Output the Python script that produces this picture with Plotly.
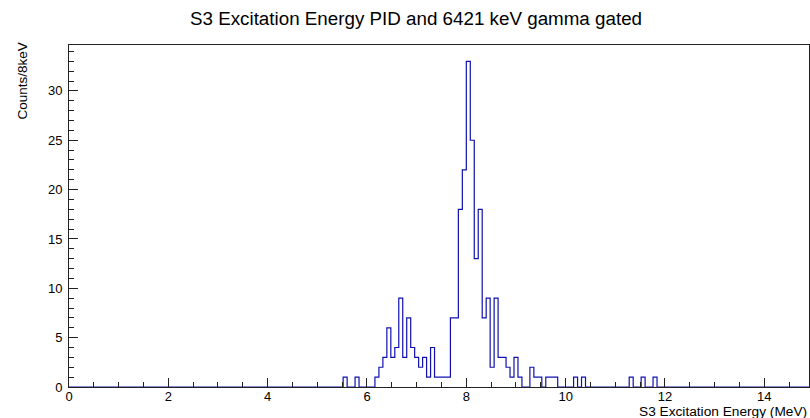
import plotly.graph_objects as go

# Histogram data: 0.08 MeV bins (low edges, MeV) and counts of the non-empty bins
bin_width = 0.08
bin_low = [5.52, 5.76,
           6.16, 6.24, 6.32, 6.40, 6.48, 6.56, 6.64, 6.72, 6.80, 6.88, 6.96,
           7.04, 7.12, 7.20, 7.28, 7.36, 7.44, 7.52, 7.60, 7.68, 7.76, 7.84, 7.92,
           8.00, 8.08, 8.16, 8.24, 8.32, 8.40, 8.48, 8.56, 8.64, 8.72, 8.80, 8.88, 8.96,
           9.04, 9.28, 9.36, 9.44, 9.60, 9.68, 9.76,
           10.16, 10.32, 11.28, 11.52, 11.76]
counts = [1, 1,
          1, 2, 3, 6, 3, 4, 9, 3, 7, 4, 3,
          2, 3, 1, 4, 1, 1, 1, 1, 7, 7, 18, 22,
          33, 25, 13, 18, 7, 9, 2, 9, 3, 3, 2, 1, 3,
          1, 2, 1, 1, 1, 1, 1,
          1, 1, 1, 1, 1]

x_min, x_max = 0.0, 14.9
n_bins = 187  # 0 .. 14.96 MeV
lookup = {round(b / bin_width): c for b, c in zip(bin_low, counts)}
edges = [i * bin_width for i in range(n_bins + 1)]
vals = [lookup.get(i, 0) for i in range(n_bins)]
xs = edges
ys = vals + [vals[-1]]

y_max = 1.05 * max(counts)

fig = go.Figure()
fig.add_trace(go.Scatter(
    x=xs, y=ys, mode="lines", line=dict(shape="hv", color="#1010b0", width=1.2),
    hoverinfo="skip", showlegend=False))

L, R, T, B = 69, 1, 45, 31
W, H = 810, 418
pw, ph = W - L - R, H - T - B

font = "Liberation Sans, Arial, Helvetica, sans-serif"
fig.update_layout(
    width=W, height=H,
    margin=dict(l=L, r=R, t=T, b=B, pad=0),
    paper_bgcolor="white", plot_bgcolor="white",
    font=dict(family=font, size=13, color="black"),
    title=dict(text="S3 Excitation Energy PID and 6421 keV gamma gated",
               x=416 / W, xanchor="center", xref="container",
               y=1 - 18 / H, yanchor="middle", yref="container",
               font=dict(size=18.8, family=font, color="black")),
    xaxis=dict(range=[x_min, x_max], showgrid=False, zeroline=False,
               showline=True, linecolor="#222", linewidth=1, mirror=True,
               ticks="inside", ticklen=9, tickcolor="#222", dtick=2, tick0=0,
               minor=dict(ticks="inside", ticklen=5, dtick=0.5, tickcolor="#222"),
               tickfont=dict(size=13), ticklabelstandoff=-3),
    yaxis=dict(range=[0, y_max], showgrid=False, zeroline=False,
               showline=True, linecolor="#222", linewidth=1, mirror=True,
               ticks="inside", ticklen=9, tickcolor="#222", dtick=5, tick0=0,
               minor=dict(ticks="inside", ticklen=5, dtick=1, tickcolor="#222"),
               tickfont=dict(size=13), ticklabelstandoff=3),
)

fig.add_annotation(text="S3 Excitation Energy (MeV)", xref="paper", yref="paper",
                   x=(809 - L) / pw, y=(387 - 411.5) / ph, xanchor="right", yanchor="middle",
                   showarrow=False, font=dict(size=13.7, family=font, color="black"))
fig.add_annotation(text="Counts/8keV", xref="paper", yref="paper", textangle=-90,
                   x=(22 - L) / pw, y=(387 - 41) / ph, xanchor="center", yanchor="top",
                   showarrow=False, font=dict(size=13.5, family=font, color="black"))

fig.write_html("out.html")
